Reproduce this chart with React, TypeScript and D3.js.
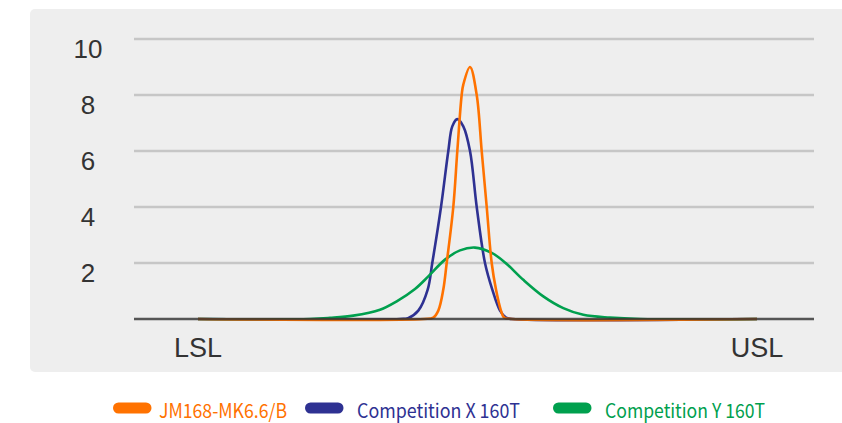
import React from "react";
import * as d3 from "d3";

// ---- data (x: position where LSL = 0 and USL = 100; y: frequency) ----
const yTicks = [2, 4, 6, 8, 10];
const specLabels = ["LSL", "USL"];
const specPositions = [0, 100];

const seriesNames = ["JM168-MK6.6/B", "Competition X 160T", "Competition Y 160T"];
const seriesColors = ["#ff7200", "#2e3192", "#00a04e"];

const orangeX = [0, 40.43, 42.09, 42.99, 43.88, 44.49, 45.67, 46.39, 47.17, 47.46, 48.66, 49.86, 50.75, 51.65, 52.54, 53.31, 54.2, 54.79, 56.17, 100];
const orangeY = [0, 0, 0.05, 0.3, 1.05, 2.0, 4.0, 6.0, 8.0, 8.37, 9.0, 8.0, 6.0, 4.0, 2.0, 1.05, 0.3, 0.05, 0, 0];

const blueX = [0, 36.14, 37.57, 39.41, 41.09, 41.91, 43.47, 44.78, 45.49, 46.39, 47.46, 48.66, 49.86, 51.34, 52.65, 54.03, 55.1, 56.17, 100];
const blueY = [0, 0, 0.03, 0.3, 1.05, 2.0, 4.0, 6.0, 6.88, 7.14, 6.88, 6.0, 4.0, 2.0, 1.05, 0.3, 0.05, 0, 0];

const greenX = [0, 20.04, 23.61, 27.78, 32.56, 35.55, 38.82, 41.2, 44.19, 46.87, 49.55, 52.54, 54.92, 58.19, 61.77, 65.35, 68.93, 73.7, 79.07, 100];
const greenY = [0, 0, 0.04, 0.12, 0.33, 0.63, 1.07, 1.52, 2.12, 2.45, 2.55, 2.36, 2.02, 1.4, 0.81, 0.39, 0.15, 0.05, 0, 0];

const W = 842;
const H = 423;
const plotLeft = 134;
const plotRight = 814;
const plotTop = 39;
const plotBottom = 319;

export default function App() {
  const x = d3.scaleLinear().domain([-11.45, 110.2]).range([plotLeft, plotRight]);
  const y = d3.scaleLinear().domain([0, 10]).range([plotBottom, plotTop]);

  const line = d3
    .line<[number, number]>()
    .x((d) => x(d[0]))
    .y((d) => Math.min(y(d[1]), plotBottom))
    .curve(d3.curveCatmullRom.alpha(0.5));

  const series = [
    { xs: orangeX, ys: orangeY },
    { xs: blueX, ys: blueY },
    { xs: greenX, ys: greenY },
  ].map((s, i) => ({
    name: seriesNames[i],
    color: seriesColors[i],
    points: s.xs.map((v, j) => [v, s.ys[j]] as [number, number]),
  }));

  // draw order: blue, green, orange (orange on top)
  const drawOrder = [1, 2, 0];

  const legendPill = [113, 305, 553];
  const legendText = [159, 357, 605];
  const legendTextWidth = [128, 163, 160];

  return (
    <div style={{ position: "absolute", left: 0, top: 0 }}>
      <svg width={W} height={H} style={{ display: "block", background: "#ffffff" }}>
        <rect x={30} y={9} width={830} height={363} rx={5} fill="#eeeeee" />
        {yTicks.map((t) => (
          <line
            key={"g" + t}
            x1={plotLeft}
            x2={plotRight}
            y1={y(t)}
            y2={y(t)}
            stroke="#c6c6c6"
            strokeWidth={2.5}
          />
        ))}
        {yTicks.map((t) => (
          <text
            key={"t" + t}
            x={88}
            y={y(t) + 19}
            textAnchor="middle"
            fontFamily="'Liberation Sans', Arial, sans-serif"
            fontSize={26}
            fill="#333333"
          >
            {t}
          </text>
        ))}
        {drawOrder.map((i) => (
          <path
            key={"s" + i}
            d={line(series[i].points) || ""}
            fill="none"
            stroke={series[i].color}
            strokeWidth={2.6}
            strokeLinejoin="round"
          />
        ))}
        <line
          x1={plotLeft}
          x2={plotRight}
          y1={y(0)}
          y2={y(0)}
          stroke="#333333"
          strokeOpacity={0.82}
          strokeWidth={2.4}
        />
        {specLabels.map((l, i) => (
          <text
            key={l}
            x={x(specPositions[i])}
            y={356.5}
            textAnchor="middle"
            fontFamily="'Liberation Sans', Arial, sans-serif"
            fontSize={27}
            fill="#333333"
          >
            {l}
          </text>
        ))}
        {series.map((s, i) => (
          <g key={"l" + i}>
            <rect x={legendPill[i]} y={402.5} width={38.5} height={11} rx={5.5} fill={s.color} />
            <text
              x={legendText[i]}
              y={418}
              fontFamily="'Noto Sans CJK SC', 'Noto Sans', sans-serif"
              fontSize={19.5}
              textLength={legendTextWidth[i]}
              lengthAdjust="spacingAndGlyphs"
              fill={s.color}
            >
              {s.name}
            </text>
          </g>
        ))}
      </svg>
    </div>
  );
}
